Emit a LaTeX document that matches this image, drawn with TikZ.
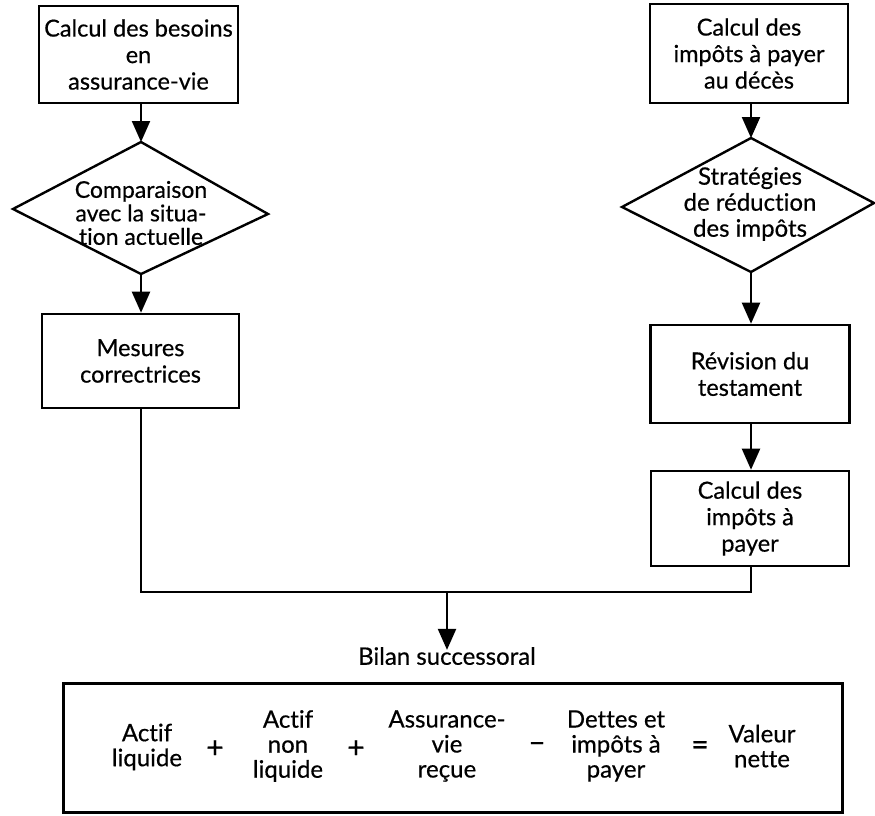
\documentclass[tikz,border=0pt]{standalone}
\usepackage{fontspec}
\setmainfont{Lato}[FakeBold=0.5, Ligatures=NoCommon]
\usetikzlibrary{arrows.meta}

\tikzset{
  box/.style={draw, line width=2.6pt, inner sep=0pt, align=center,
    font=\fontsize{23.5}{26.5}\selectfont},
  dtext/.style={inner sep=0pt, align=center},
  rhomb/.style={line width=2.4pt, line join=miter},
  arr/.style={line width=2.2pt, -{Triangle[length=21pt,width=18pt]}},
  link/.style={line width=2.4pt},
  eq/.style={inner sep=0pt, align=center, font=\fontsize{24}{25}\selectfont},
  op/.style={inner sep=0pt, font=\fontsize{30}{30}\selectfont},
}

\begin{document}
\begin{tikzpicture}[x=1pt, y=-1pt]
  \useasboundingbox (0,0) rectangle (875,815);

  % left column
  \node[box, minimum width=199pt, minimum height=97pt] (b1) at (138.5,54.5)
    {Calcul des besoins\\en\\assurance-vie};

  \coordinate (d1t) at (141,142);
  \coordinate (d1b) at (141,274);
  \draw[rhomb] (13,209) -- (d1t) -- (268,214) -- (d1b) -- cycle;
  \node[dtext, font=\fontsize{23}{23.5}\selectfont] (d1) at (141,213)
    {Comparaison\\avec la situa-\\tion actuelle};

  \node[box, minimum width=197pt, minimum height=94pt] (m1) at (140.5,361)
    {Mesures\\correctrices};

  % right column
  \node[box, minimum width=198pt, minimum height=99pt] (r1) at (749,53.5)
    {Calcul des\\impôts à payer\\au décès};

  \coordinate (d2t) at (751,138);
  \coordinate (d2b) at (751,272);
  \draw[rhomb] (622,207) -- (d2t) -- (874,203) -- (d2b) -- cycle;
  \node[dtext, font=\fontsize{24}{26}\selectfont] (d2) at (750,204)
    {Stratégies\\de réduction\\des impôts};

  \node[box, minimum width=199pt, minimum height=98pt] (r2) at (750,374)
    {Révision du\\testament};

  \node[box, minimum width=198pt, minimum height=95pt] (r3) at (750,518.5)
    {Calcul des\\impôts à\\payer};

  % flow connectors
  \draw[arr] (b1.south -| d1t) -- (d1t);
  \draw[arr] (d1b) -- (m1.north -| d1b);
  \draw[arr] (r1.south -| d2t) -- (d2t);
  \draw[arr] (d2b) -- (r2.north -| d2b);
  \draw[arr] (r2.south -| d2b) -- (r3.north -| d2b);

  % merge into the estate balance
  \coordinate (j) at (447,592);
  \draw[link] (m1.south -| d1b) |- (j) -| (r3.south -| d2b);
  \node[inner sep=0pt, font=\fontsize{24}{24}\selectfont] (bilan) at (447,656)
    {Bilan successoral};
  \draw[arr] (j) -- ([yshift=-3pt]bilan.north);

  % balance equation
  \node[draw, line width=3pt, minimum width=779pt, minimum height=129pt, inner sep=0pt]
    (eqbox) at (452.5,747.5) {};
  \node[eq] (t1) at (147,747) {Actif\\liquide};
  \node[op] (o1) at (215,749) {+};
  \node[eq] (t2) at (288,746) {Actif\\non\\liquide};
  \node[op] (o2) at (356,749) {+};
  \node[eq] (t3) at (447,746) {Assurance-\\vie\\reçue};
  \node[op] (o3) at (537,747) {–};
  \node[eq] (t4) at (616,746) {Dettes et\\impôts à\\payer};
  \node[op] (o4) at (700,748) {=};
  \node[eq] (t5) at (762,746) {Valeur\\nette};
\end{tikzpicture}
\end{document}
